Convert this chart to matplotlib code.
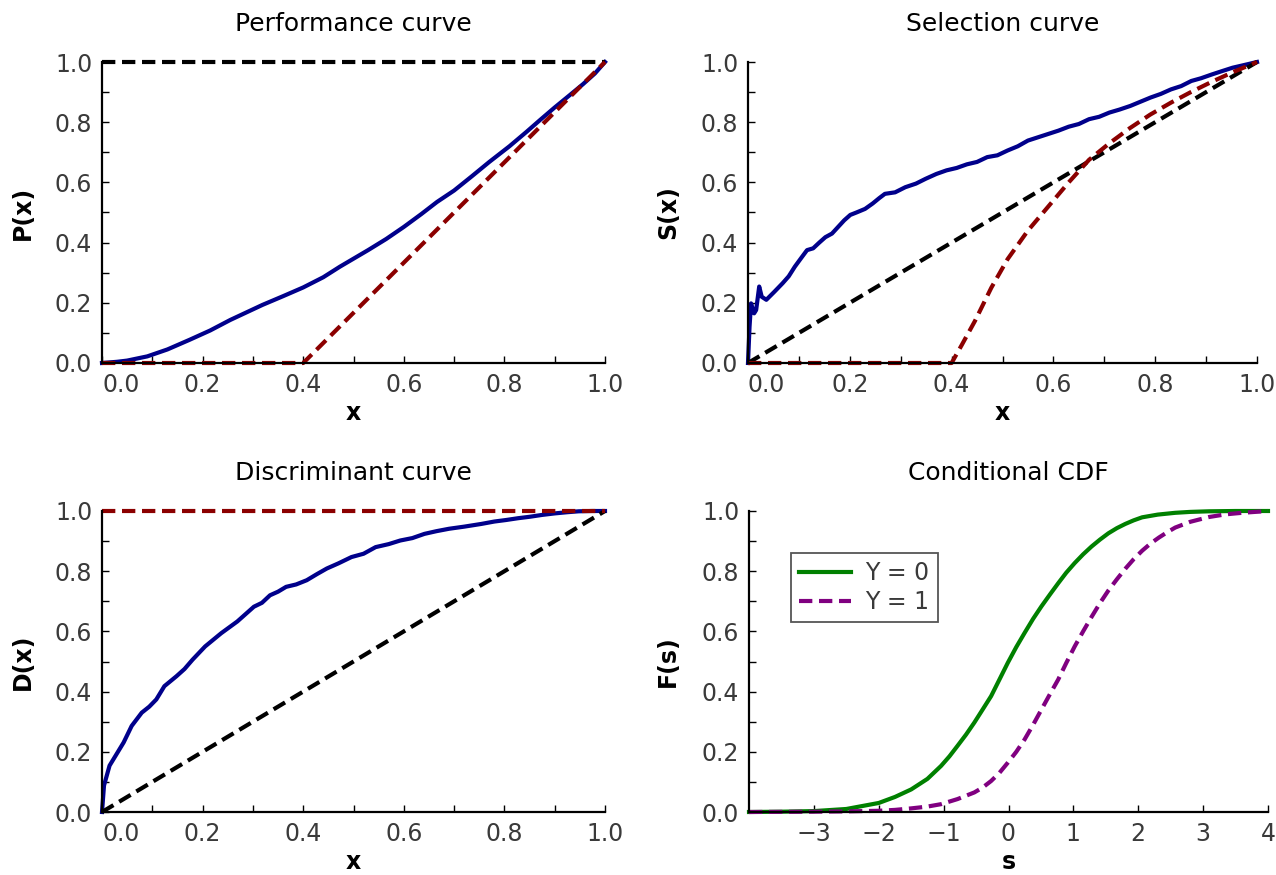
import matplotlib
matplotlib.use("Agg")
import matplotlib.pyplot as plt
from matplotlib.ticker import MultipleLocator

# Performance curve
perf_x = [0, 0.03, 0.05, 0.09, 0.13, 0.174, 0.215, 0.255, 0.319, 0.36, 0.40, 0.44, 0.473, 0.529, 0.565,
          0.60, 0.635, 0.666, 0.70, 0.735, 0.77, 0.81, 0.844, 0.87, 0.90, 0.93, 0.956, 0.98, 1.0]
perf_y = [0, 0.004, 0.008, 0.022, 0.045, 0.077, 0.108, 0.143, 0.193, 0.222, 0.251, 0.285, 0.32, 0.375, 0.412,
          0.452, 0.495, 0.535, 0.573, 0.62, 0.668, 0.72, 0.768, 0.806, 0.849, 0.89, 0.926, 0.962, 1.0]
perf_opt_x = [0, 0.40, 1.0]
perf_opt_y = [0, 0, 1.0]
perf_base_x = [0, 1.0]
perf_base_y = [1.0, 1.0]

# Selection curve
sel_x = [0, 0.003, 0.006, 0.012, 0.016, 0.022, 0.027, 0.036, 0.052, 0.068, 0.08, 0.092, 0.105, 0.116,
         0.128, 0.14, 0.152, 0.165, 0.177, 0.189, 0.201, 0.213, 0.23, 0.245, 0.258, 0.269, 0.289, 0.309,
         0.33, 0.349, 0.37, 0.39, 0.41, 0.43, 0.45, 0.47, 0.49, 0.51, 0.53, 0.55, 0.57, 0.59, 0.61,
         0.63, 0.65, 0.67, 0.69, 0.71, 0.73, 0.751, 0.771, 0.791, 0.811, 0.831, 0.851, 0.871, 0.89,
         0.912, 0.93, 0.952, 0.975, 1.0]
sel_y = [0, 0.12, 0.198, 0.165, 0.176, 0.254, 0.22, 0.21, 0.237, 0.265, 0.288, 0.32, 0.35, 0.375,
         0.381, 0.40, 0.418, 0.43, 0.452, 0.474, 0.492, 0.50, 0.512, 0.53, 0.548, 0.562, 0.567, 0.584,
         0.596, 0.612, 0.628, 0.64, 0.648, 0.66, 0.668, 0.684, 0.69, 0.706, 0.72, 0.739, 0.75, 0.761,
         0.772, 0.785, 0.794, 0.81, 0.818, 0.832, 0.842, 0.854, 0.868, 0.882, 0.894, 0.909, 0.92,
         0.937, 0.946, 0.959, 0.969, 0.981, 0.99, 1.0]
sel_opt_x = [0, 0.40, 0.42, 0.446, 0.478, 0.51, 0.55, 0.59, 0.63, 0.67, 0.71, 0.75, 0.79, 0.831, 0.87,
             0.912, 0.955, 1.0]
sel_opt_y = [0, 0, 0.06, 0.14, 0.25, 0.345, 0.44, 0.52, 0.60, 0.675, 0.73, 0.78, 0.825, 0.865, 0.90,
             0.935, 0.968, 1.0]
sel_base_x = [0, 1.0]
sel_base_y = [0, 1.0]

# Discriminant curve
disc_x = [0, 0.004, 0.015, 0.027, 0.043, 0.059, 0.079, 0.094, 0.108, 0.124, 0.148, 0.164, 0.18, 0.205,
          0.237, 0.269, 0.302, 0.318, 0.334, 0.35, 0.366, 0.386, 0.407, 0.427, 0.447, 0.47, 0.496,
          0.52, 0.544, 0.57, 0.593, 0.617, 0.641, 0.665, 0.69, 0.72, 0.754, 0.78, 0.803, 0.827, 0.851,
          0.875, 0.90, 0.925, 0.948, 0.975, 1.0]
disc_y = [0, 0.088, 0.154, 0.187, 0.231, 0.286, 0.33, 0.35, 0.374, 0.418, 0.451, 0.475, 0.506, 0.55,
          0.594, 0.633, 0.682, 0.695, 0.72, 0.732, 0.748, 0.756, 0.77, 0.79, 0.809, 0.826, 0.847,
          0.858, 0.88, 0.89, 0.902, 0.91, 0.924, 0.933, 0.941, 0.948, 0.957, 0.965, 0.97, 0.976, 0.981,
          0.987, 0.992, 0.996, 0.999, 1.0, 1.0]
disc_opt_x = [0, 1.0]
disc_opt_y = [1.0, 1.0]
disc_base_x = [0, 1.0]
disc_base_y = [0, 1.0]

# Conditional CDF
s0 = [-4, -3.5, -3, -2.5, -2, -1.75, -1.5, -1.25, -1.04, -0.91, -0.785, -0.655, -0.527, -0.4, -0.268,
      -0.14, -0.01, 0.12, 0.248, 0.38, 0.507, 0.64, 0.766, 0.89, 1.02, 1.15, 1.28, 1.41, 1.54, 1.67,
      1.8, 1.93, 2.06, 2.3, 2.57, 2.8, 3.09, 3.5, 4]
F0 = [0, 0.001, 0.003, 0.01, 0.03, 0.05, 0.075, 0.11, 0.153, 0.185, 0.22, 0.257, 0.297, 0.34, 0.385,
      0.44, 0.496, 0.548, 0.595, 0.642, 0.683, 0.723, 0.76, 0.795, 0.827, 0.856, 0.882, 0.905, 0.926,
      0.943, 0.957, 0.969, 0.979, 0.988, 0.994, 0.997, 0.999, 1.0, 1.0]
s1 = [-4, -3, -2.5, -2, -1.75, -1.5, -1.25, -1.04, -0.785, -0.527, -0.4, -0.268, -0.14, -0.01, 0.12,
      0.248, 0.38, 0.507, 0.64, 0.766, 0.89, 1.02, 1.15, 1.28, 1.41, 1.54, 1.67, 1.8, 1.93, 2.06,
      2.19, 2.32, 2.45, 2.57, 2.8, 3.09, 3.35, 3.6, 4]
F1 = [0, 0.001, 0.002, 0.004, 0.007, 0.012, 0.018, 0.026, 0.043, 0.065, 0.081, 0.103, 0.13, 0.164, 0.2,
      0.241, 0.29, 0.34, 0.392, 0.44, 0.495, 0.55, 0.6, 0.648, 0.694, 0.736, 0.773, 0.808, 0.84, 0.868,
      0.892, 0.912, 0.93, 0.945, 0.964, 0.98, 0.989, 0.994, 1.0]

BLUE = "#00008B"
RED = "#8B0000"
W = 1276
H = 875
LW = 3.0
DASH = (0, (3.2, 1.6))

fig = plt.figure(figsize=(W / 100, H / 100), dpi=100)


def make_axes(left, right, top, bottom):
    return fig.add_axes([left / W, 1 - bottom / H, (right - left) / W, (bottom - top) / H])


def style(ax, title, xlabel, ylabel):
    for side in ["top", "right"]:
        ax.spines[side].set_visible(False)
    for side in ["left", "bottom"]:
        ax.spines[side].set_linewidth(1.6)
    ax.tick_params(which="both", direction="in", colors="black", labelcolor="#3a3a3a",
                   labelsize=17, width=1.0, length=5, pad=7)
    ax.set_ylim(0, 1)
    ax.yaxis.set_major_locator(MultipleLocator(0.2))
    ax.yaxis.set_minor_locator(MultipleLocator(0.1))
    ax.set_yticklabels([f"{v:.1f}" for v in ax.get_yticks()])
    ax.set_title(title, fontsize=18, pad=22)
    ax.set_xlabel(xlabel, fontsize=17, fontweight="bold", va="center")
    ax.set_ylabel(ylabel, fontsize=17, fontweight="bold", va="center")
    ax.yaxis.set_label_coords(-0.157, 0.5)
    ax.xaxis.set_label_coords(0.5, -0.166)


def unit_x(ax):
    ax.set_xlim(0, 1)
    ax.set_xticks([0, 0.2, 0.4, 0.6, 0.8, 1.0])
    ax.xaxis.set_minor_locator(MultipleLocator(0.1))
    labels = ax.set_xticklabels(["0.0", "0.2", "0.4", "0.6", "0.8", "1.0"])
    labels[0].set_horizontalalignment("left")


# Performance
ax1 = make_axes(102, 605, 62, 363)
ax1.plot(perf_x, perf_y, color=BLUE, lw=LW, clip_on=False)
ax1.plot(perf_base_x, perf_base_y, color="black", lw=LW, ls=DASH, clip_on=False)
ax1.plot(perf_opt_x, perf_opt_y, color=RED, lw=LW, ls=DASH, clip_on=False)
unit_x(ax1)
style(ax1, "Performance curve", "x", "P(x)")

# Selection
ax2 = make_axes(748, 1257, 62, 363)
ax2.plot(sel_x, sel_y, color=BLUE, lw=LW, clip_on=False)
ax2.plot(sel_base_x, sel_base_y, color="black", lw=LW, ls=DASH, clip_on=False)
ax2.plot(sel_opt_x, sel_opt_y, color=RED, lw=LW, ls=DASH, clip_on=False)
unit_x(ax2)
style(ax2, "Selection curve", "x", "S(x)")

# Discriminant
ax3 = make_axes(102, 605, 511, 812)
ax3.plot(disc_x, disc_y, color=BLUE, lw=LW, clip_on=False)
ax3.plot(disc_base_x, disc_base_y, color="black", lw=LW, ls=DASH, clip_on=False)
ax3.plot(disc_opt_x, disc_opt_y, color=RED, lw=LW, ls=DASH, clip_on=False)
unit_x(ax3)
style(ax3, "Discriminant curve", "x", "D(x)")

# Conditional CDF
ax4 = make_axes(749, 1268, 511, 812)
ax4.plot(s0, F0, color="#008000", lw=LW, label="Y = 0", clip_on=False)
ax4.plot(s1, F1, color="#800080", lw=LW, ls=DASH, label="Y = 1", clip_on=False)
ax4.set_xlim(-4, 4)
ax4.set_xticks([-3, -2, -1, 0, 1, 2, 3, 4])
ax4.set_xticklabels(["\u22123", "\u22122", "\u22121", "0", "1", "2", "3", "4"])
style(ax4, "Conditional CDF", "s", "F(s)")
leg = ax4.legend(loc="upper left", bbox_to_anchor=(0.081, 0.86), borderaxespad=0, fontsize=17,
                 fancybox=False, framealpha=1, edgecolor="#555555", handlelength=2.2,
                 borderpad=0.35, labelspacing=0.2, handletextpad=0.6)
leg.get_frame().set_linewidth(1.3)
for t in leg.get_texts():
    t.set_color("#3a3a3a")

fig.savefig("out.png", dpi=100)
